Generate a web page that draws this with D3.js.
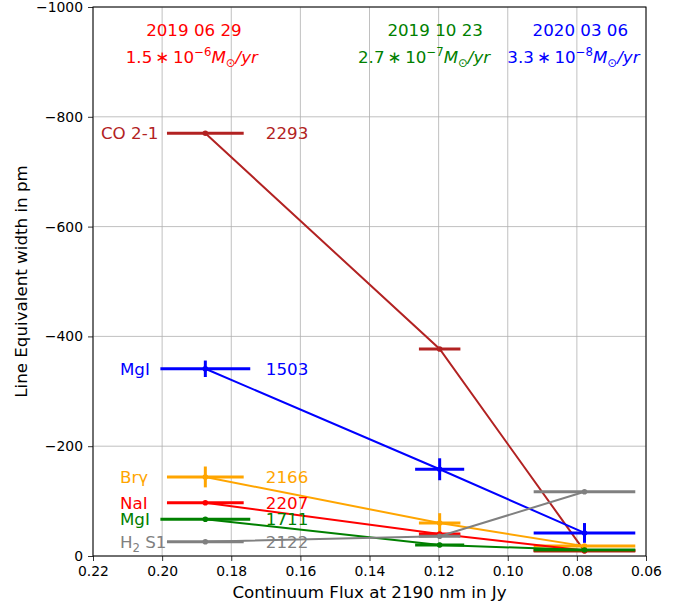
<!DOCTYPE html>
<html>
<head>
<meta charset="utf-8">
<script src="https://cdn.jsdelivr.net/npm/d3@7"></script>
<style>
  body { margin: 0; background: #fff; }
  svg { font-family: 'DejaVu Sans', sans-serif; }
</style>
</head>
<body>
<svg id="chart" width="679" height="604"></svg>
<script>
/* ---------- data ---------- */
const epochs      = ['2019 06 29', '2019 10 23', '2020 03 06'];
const rateMant    = ['1.5', '2.7', '3.3'];
const rateExp     = ['\u22126', '\u22127', '\u22128'];
const epochColors = ['red', 'green', 'blue'];
const flux        = [0.1875, 0.1197, 0.0778];

const lineNames  = ['CO 2-1', 'MgI', 'Br\u03b3', 'NaI', 'MgI', 'H2 S1'];
const lineWaves  = ['2293', '1503', '2166', '2207', '1711', '2122'];
const lineColors = ['#b22222', 'blue', 'orange', 'red', 'green', 'gray'];

const ewCO     = [-770, -377, -9];
const ewMg1503 = [-341, -158, -42];
const ewBrg    = [-144, -60, -18];
const ewNaI    = [-97, -40, -10];
const ewMg1711 = [-67, -20, -11];
const ewH2     = [-26, -36, -117];
const ewAll = [ewCO, ewMg1503, ewBrg, ewNaI, ewMg1711, ewH2];

const xErrSmall = [0.0111, 0.006, 0.0147];
const xErrLarge = [0.0130, 0.0071, 0.0147];
const xErrAll = [xErrSmall, xErrLarge, xErrSmall, xErrSmall, xErrLarge, xErrSmall];

const yErrAll = [
  [2, 2, 2],
  [15, 20, 18],
  [19, 18, 3],
  [2, 2, 2],
  [3, 4, 2],
  [2, 2, 2],
];

const xTicks = [0.22, 0.20, 0.18, 0.16, 0.14, 0.12, 0.10, 0.08, 0.06];
const yTicks = [0, -200, -400, -600, -800, -1000];

/* ---------- layout ---------- */
const svg = d3.select('#chart');
const L = 93, R = 646, T = 7, B = 556;

const x = d3.scaleLinear().domain([0.22, 0.06]).range([L, R]);
const y = d3.scaleLinear().domain([0, -1000]).range([B, T]);

// grid
const grid = svg.append('g');
xTicks.forEach(t => grid.append('line')
  .attr('x1', x(t)).attr('x2', x(t)).attr('y1', T).attr('y2', B)
  .attr('stroke', '#b0b0b0').attr('stroke-width', 0.8));
yTicks.forEach(t => grid.append('line')
  .attr('x1', L).attr('x2', R).attr('y1', y(t)).attr('y2', y(t))
  .attr('stroke', '#b0b0b0').attr('stroke-width', 0.8));

// axes
const fmtMinus = s => s.replace('-', '\u2212');
const xAxis = svg.append('g').attr('transform', `translate(0,${B})`)
  .call(d3.axisBottom(x).tickValues(xTicks).tickFormat(d3.format('.2f')).tickSizeOuter(0).tickSize(5).tickPadding(5));
const yAxis = svg.append('g').attr('transform', `translate(${L},0)`)
  .call(d3.axisLeft(y).tickValues(yTicks).tickFormat(d => fmtMinus(String(d))).tickSizeOuter(0).tickSize(5).tickPadding(5));
[xAxis, yAxis].forEach(a => {
  a.select('.domain').remove();
  a.selectAll('text').attr('font-size', '13.9px').attr('fill', '#000')
    .attr('font-family', "'DejaVu Sans', sans-serif");
  a.selectAll('line').attr('stroke', '#000').attr('stroke-width', 0.8);
});

svg.append('text').attr('x', (L + R) / 2).attr('y', 598)
  .attr('text-anchor', 'middle').attr('font-size', '16.7px')
  .text('Continuum Flux at 2190 nm in Jy');
svg.append('text')
  .attr('transform', `translate(27,${(T + B) / 2}) rotate(-90)`)
  .attr('text-anchor', 'middle').attr('font-size', '16.7px')
  .text('Line Equivalent width in pm');

/* ---------- series ---------- */
const lineFn = d3.line().x(d => x(d[0])).y(d => y(d[1]));
const plot = svg.append('g');

ewAll.forEach((ew, i) => {
  const col = lineColors[i];
  const pts = flux.map((f, j) => [f, ew[j]]);
  const g = plot.append('g');
  g.append('path').attr('d', lineFn(pts)).attr('fill', 'none')
    .attr('stroke', col).attr('stroke-width', 2);
  pts.forEach((p, j) => {
    const xe = xErrAll[i][j], ye = yErrAll[i][j];
    g.append('line').attr('x1', x(p[0] + xe)).attr('x2', x(p[0] - xe))
      .attr('y1', y(p[1])).attr('y2', y(p[1]))
      .attr('stroke', col).attr('stroke-width', 3);
    g.append('line').attr('x1', x(p[0])).attr('x2', x(p[0]))
      .attr('y1', y(p[1] - ye)).attr('y2', y(p[1] + ye))
      .attr('stroke', col).attr('stroke-width', 3);
    g.append('circle').attr('cx', x(p[0])).attr('cy', y(p[1])).attr('r', 2.8)
      .attr('fill', col);
  });
});

/* ---------- labels ---------- */
const labelG = svg.append('g').attr('font-size', '16.7px');
ewAll.forEach((ew, i) => {
  const col = lineColors[i];
  const nameX = i === 0 ? 0.2177 : 0.2122;
  const yy = y(ew[0]) + 6;
  const t = labelG.append('text').attr('x', x(nameX)).attr('y', yy).attr('fill', col);
  if (lineNames[i] === 'H2 S1') {
    t.append('tspan').text('H');
    t.append('tspan').attr('font-size', '11.7px').attr('dy', 4).text('2');
    t.append('tspan').attr('dy', -4).text('\u00a0S1');
  } else {
    t.text(lineNames[i]);
  }
  labelG.append('text').attr('x', x(0.170)).attr('y', yy).attr('fill', col)
    .text(lineWaves[i]);
});

/* ---------- epoch annotations ---------- */
const dateX = [0.1908, 0.1210, 0.0790];
const rateX = [0.1914, 0.1242, 0.0810];
epochs.forEach((d, i) => {
  svg.append('text').attr('x', x(dateX[i])).attr('y', 36)
    .attr('text-anchor', 'middle').attr('font-size', '16.7px')
    .attr('fill', epochColors[i]).text(d);
  const t = svg.append('text').attr('x', x(rateX[i])).attr('y', 63)
    .attr('text-anchor', 'middle').attr('font-size', '16.7px')
    .attr('fill', epochColors[i]);
  t.append('tspan').text(rateMant[i] + '\u2009\u2217\u2009' + '10');
  t.append('tspan').attr('font-size', '11.7px').attr('dy', -7).text(rateExp[i]);
  t.append('tspan').attr('dy', 7).attr('font-style', 'italic').text('M');
  t.append('tspan').attr('font-size', '11.7px').attr('dy', 4).text('\u2299');
  t.append('tspan').attr('dy', -4).attr('font-style', 'italic').text('/yr');
});

// frame
svg.append('rect').attr('x', L).attr('y', T).attr('width', R - L).attr('height', B - T)
  .attr('fill', 'none').attr('stroke', '#000').attr('stroke-width', 1);
</script>
</body>
</html>
